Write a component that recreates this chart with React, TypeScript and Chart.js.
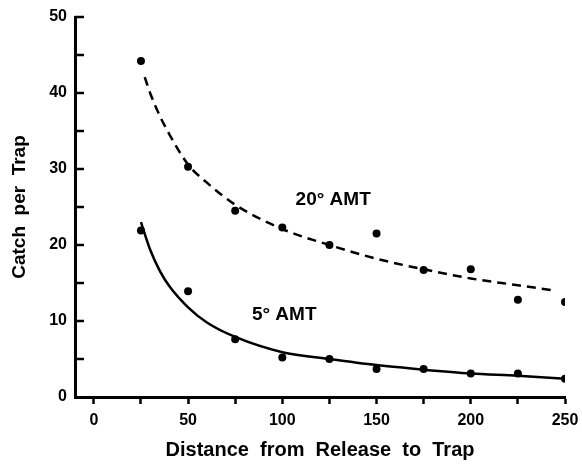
import React, { useEffect, useRef } from "react";
import { Chart, registerables } from "chart.js";

Chart.register(...registerables);

const distances = [25, 50, 75, 100, 125, 150, 175, 200, 225, 250];
const catch20 = [44.2, 30.3, 24.5, 22.3, 20.0, 21.5, 16.7, 16.8, 12.8, 12.5];
const catch5 = [21.9, 13.9, 7.6, 5.2, 5.0, 3.7, 3.7, 3.1, 3.1, 2.4];

const fit20X = [27, 30, 35, 40, 50, 60, 75, 100, 125, 150, 175, 200, 225, 245];
const fit20Y = [42.1, 39.9, 37.0, 34.6, 30.6, 28.2, 25.3, 22.1, 20.0, 18.2, 16.8, 15.6, 14.7, 14.0];

const fit5X = [25, 30, 35, 40, 50, 60, 75, 100, 125, 150, 175, 200, 225, 250];
const fit5Y = [23.0, 19.3, 16.6, 14.6, 11.8, 9.8, 7.9, 5.9, 5.0, 4.2, 3.6, 3.1, 2.8, 2.4];

const xTicksStep = 25;
const yTicksStep = 5;

const labels = [
  { text: "20° AMT", x: 127, y: 25.9 },
  { text: "5° AMT", x: 101, y: 10.8 },
];

const FONT = "'Liberation Sans', Arial, Helvetica, sans-serif";

const pts = (xs: number[], ys: number[]) => xs.map((x, i) => ({ x, y: ys[i] }));

export default function App() {
  const ref = useRef<HTMLCanvasElement | null>(null);

  useEffect(() => {
    document.body.style.margin = "0";
    const canvas = ref.current;
    if (!canvas) return;

    const overlay = {
      id: "overlay",
      afterDraw(chart: any) {
        const ctx = chart.ctx;
        const ys = chart.scales.y;
        const xs = chart.scales.x;
        ctx.save();
        ctx.strokeStyle = "#000";
        ctx.lineWidth = 2.5;
        ys.ticks.forEach((t: any) => {
          if (t.value === 0) return;
          const py = ys.getPixelForValue(t.value);
          ctx.beginPath();
          ctx.moveTo(chart.chartArea.left, py);
          ctx.lineTo(chart.chartArea.left + 9, py);
          ctx.stroke();
        });
        ctx.fillStyle = "#000";
        ctx.font = `bold 19px ${FONT}`;
        ctx.textAlign = "center";
        ctx.textBaseline = "middle";
        labels.forEach((l) => {
          ctx.fillText(l.text, xs.getPixelForValue(l.x), ys.getPixelForValue(l.y));
        });
        ctx.restore();
      },
    };

    const chart = new Chart(canvas, {
      type: "line",
      data: {
        datasets: [
          {
            data: pts(fit20X, fit20Y),
            borderColor: "#000",
            borderWidth: 2.5,
            borderDash: [9, 6],
            pointRadius: 0,
            cubicInterpolationMode: "monotone",
            fill: false,
          },
          {
            data: pts(fit5X, fit5Y),
            borderColor: "#000",
            borderWidth: 2.5,
            pointRadius: 0,
            cubicInterpolationMode: "monotone",
            fill: false,
          },
          {
            data: pts(distances, catch20),
            showLine: false,
            pointRadius: 4,
            pointBackgroundColor: "#000",
            pointBorderWidth: 0,
            borderColor: "#000",
          },
          {
            data: pts(distances, catch5),
            showLine: false,
            pointRadius: 4,
            pointBackgroundColor: "#000",
            pointBorderWidth: 0,
            borderColor: "#000",
          },
        ],
      },
      options: {
        animation: false,
        responsive: false,
        maintainAspectRatio: false,
        layout: { padding: { top: 17, right: 17, left: 0, bottom: 0 } },
        plugins: { legend: { display: false }, tooltip: { enabled: false } },
        scales: {
          x: {
            type: "linear",
            min: -10,
            max: 250,
            afterBuildTicks: (scale: any) => {
              const t = [];
              for (let v = 0; v <= 250; v += xTicksStep) t.push({ value: v });
              scale.ticks = t;
            },
            afterFit: (scale: any) => {
              scale.height = 67;
              scale.paddingLeft = 0;
              scale.paddingRight = 0;
            },
            ticks: {
              color: "#000",
              font: { family: FONT, size: 16, weight: "bold" },
              padding: 7,
              maxRotation: 0,
              autoSkip: false,
              callback: (v: any) => (Number(v) % 50 === 0 ? String(v) : ""),
            },
            grid: {
              drawOnChartArea: false,
              drawTicks: true,
              tickLength: 7,
              tickWidth: 2.5,
              color: "#000",
            },
            border: { display: true, color: "#000", width: 3 },
            title: {
              display: true,
              text: "Distance  from  Release  to  Trap",
              color: "#000",
              font: { family: FONT, size: 20, weight: "bold" },
              padding: { top: 0, bottom: 2 },
            },
          },
          y: {
            type: "linear",
            min: 0,
            max: 50,
            afterBuildTicks: (scale: any) => {
              const t = [];
              for (let v = 0; v <= 50; v += yTicksStep) t.push({ value: v });
              scale.ticks = t;
            },
            afterFit: (scale: any) => {
              scale.width = 75;
              scale.paddingTop = 0;
              scale.paddingBottom = 0;
            },
            ticks: {
              color: "#000",
              font: { family: FONT, size: 16, weight: "bold" },
              padding: 8,
              autoSkip: false,
              callback: (v: any) => (Number(v) % 10 === 0 ? String(v) : ""),
            },
            grid: { display: false, drawTicks: false },
            border: { display: true, color: "#000", width: 3 },
            title: {
              display: true,
              text: "Catch  per  Trap",
              color: "#000",
              font: { family: FONT, size: 19, weight: "bold" },
              padding: { top: 8, bottom: 0 },
            },
          },
        },
      },
      plugins: [overlay],
    } as any);

    return () => chart.destroy();
  }, []);

  return (
    <div style={{ width: 582, height: 464 }}>
      <canvas ref={ref} width={582} height={464} style={{ display: "block" }} />
    </div>
  );
}
